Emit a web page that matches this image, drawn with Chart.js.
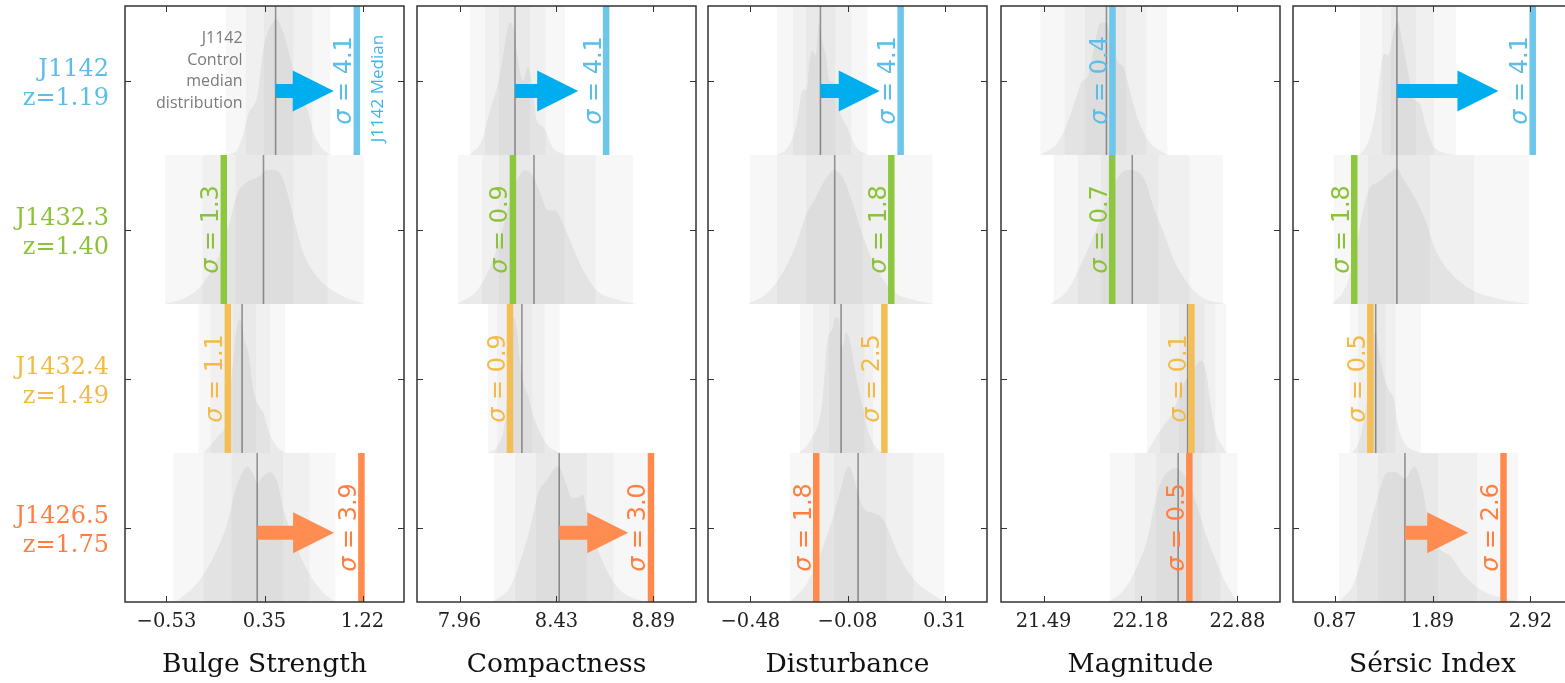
<!DOCTYPE html>
<html>
<head>
<meta charset="utf-8">
<script src="https://cdn.jsdelivr.net/npm/chart.js@4"></script>
<style>
html, body { margin: 0; padding: 0; background: #fff; overflow: hidden; width: 1565px; height: 683px; }
canvas { position: absolute; top: 0; }
</style>
</head>
<body>
<script>
// rows (top to bottom)
var clusters = ["J1142", "J1432.3", "J1432.4", "J1426.5"];
var redshifts = ["z=1.19", "z=1.40", "z=1.49", "z=1.75"];

// panels (left to right)
var measures = ["Bulge Strength", "Compactness", "Disturbance", "Magnitude", "Sérsic Index"];
var tickLabels = [
    ["−0.53", "0.35", "1.22"],
    ["7.96", "8.43", "8.89"],
    ["−0.48", "−0.08", "0.31"],
    ["21.49", "22.18", "22.88"],
    ["0.87", "1.89", "2.92"]
];
var tickValues = [
    [-0.525, 0.35, 1.225],
    [7.965, 8.43, 8.895],
    [-0.48, -0.085, 0.31],
    [21.49, 22.185, 22.88],
    [0.87, 1.895, 2.92]
];
var axisRange = [
    [-0.895, 1.595],
    [7.761, 9.099],
    [-0.652, 0.482],
    [21.185, 23.185],
    [0.4335, 3.3565]
];

// cluster median (coloured bar) and control median (grey line), [panel][row]
var clusterMedian = [
    [1.174, -0.013, 0.023, 1.215],
    [8.668, 8.221, 8.207, 8.883],
    [0.131, 0.093, 0.065, -0.212],
    [21.984, 21.982, 22.550, 22.535],
    [2.945, 1.075, 1.244, 2.639]
];
var controlMedian = [
    [0.449, 0.341, 0.150, 0.285],
    [8.231, 8.322, 8.264, 8.443],
    [-0.195, -0.137, -0.111, -0.042],
    [21.941, 22.126, 22.523, 22.455],
    [1.522, 1.522, 1.300, 1.606]
];
var sigmas = [
    ["4.1", "1.3", "1.1", "3.9"],
    ["4.1", "0.9", "0.9", "3.0"],
    ["4.1", "1.8", "2.5", "1.8"],
    ["0.4", "0.7", "0.1", "0.5"],
    ["4.1", "1.8", "0.5", "2.6"]
];
// arrow tip values (null = no arrow)
var arrowTips = [
    [0.968, null, null, 0.971],
    [8.534, null, null, 8.774],
    [0.046, null, null, null],
    [null, null, null, null],
    [2.586, null, null, 2.269]
];

// shaded percentile bands: [outerLo, outerHi, midLo, midHi, innerLo, innerHi]
var bulgeBands = [
    [0.001, 0.941, 0.180, 0.780, 0.341, 0.610],
    [-0.537, 1.237, -0.206, 0.915, 0.090, 0.610],
    [-0.241, 0.538, -0.134, 0.404, 0.063, 0.278],
    [-0.465, 0.986, -0.197, 0.753, 0.054, 0.520]
];
var compactBands = [
    [8.015, 8.471, 8.087, 8.379, 8.154, 8.303],
    [7.957, 8.797, 8.072, 8.619, 8.154, 8.470],
    [8.101, 8.446, 8.144, 8.374, 8.197, 8.312],
    [8.130, 8.863, 8.231, 8.705, 8.331, 8.576]
];
var disturbBands = [
    [-0.373, -0.003, -0.308, -0.068, -0.255, -0.133],
    [-0.483, 0.261, -0.373, 0.086, -0.255, -0.023],
    [-0.280, 0.070, -0.227, 0.021, -0.162, -0.015],
    [-0.320, 0.310, -0.227, 0.184, -0.141, 0.074]
];
var magBands = [
    [21.466, 22.379, 21.639, 22.229, 21.783, 22.085],
    [21.560, 22.776, 21.733, 22.538, 21.898, 22.315],
    [22.229, 22.803, 22.322, 22.724, 22.458, 22.645],
    [21.962, 22.882, 22.142, 22.760, 22.293, 22.624]
];
var sersicBands = [
    [1.131, 2.145, 1.363, 1.913, 1.458, 1.723],
    [0.856, 2.906, 1.099, 2.336, 1.215, 1.871],
    [1.025, 1.776, 1.110, 1.511, 1.205, 1.406],
    [0.912, 2.798, 1.100, 2.367, 1.321, 1.955]
];

// control distributions [value, relative height]
var bulgeKde = [
    [[0.001,0],[0.10,0.03],[0.162,0.15],[0.207,0.28],[0.250,0.33],[0.287,0.40],[0.341,0.72],[0.400,0.86],[0.458,0.91],[0.520,0.82],[0.583,0.64],[0.673,0.39],[0.735,0.30],[0.789,0.15],[0.870,0.04],[0.941,0]],
    [[-0.537,0],[-0.340,0.05],[-0.197,0.14],[-0.062,0.32],[0.027,0.52],[0.108,0.74],[0.198,0.82],[0.287,0.85],[0.377,0.90],[0.449,0.90],[0.520,0.83],[0.610,0.58],[0.699,0.34],[0.825,0.18],[1.004,0.07],[1.237,0]],
    [[-0.197,0],[-0.071,0.11],[0.018,0.24],[0.072,0.64],[0.108,0.87],[0.135,0.90],[0.171,0.76],[0.207,0.67],[0.251,0.42],[0.314,0.30],[0.341,0.27],[0.386,0.15],[0.466,0.04],[0.538,0]],
    [[-0.447,0],[-0.250,0.13],[-0.107,0.30],[0.018,0.53],[0.090,0.75],[0.153,0.87],[0.198,0.91],[0.242,0.87],[0.287,0.80],[0.332,0.84],[0.395,0.87],[0.466,0.80],[0.520,0.62],[0.610,0.42],[0.735,0.21],[0.879,0.06],[0.986,0]]
];
var compactKde = [
    [[8.015,0],[8.072,0.10],[8.111,0.30],[8.149,0.48],[8.173,0.66],[8.197,0.86],[8.207,0.89],[8.226,0.84],[8.245,0.64],[8.269,0.50],[8.293,0.59],[8.317,0.44],[8.336,0.23],[8.365,0.19],[8.413,0.05],[8.471,0]],
    [[7.953,0],[8.048,0.09],[8.111,0.25],[8.168,0.48],[8.207,0.70],[8.240,0.83],[8.279,0.90],[8.312,0.87],[8.351,0.75],[8.389,0.63],[8.422,0.63],[8.461,0.54],[8.509,0.38],[8.557,0.23],[8.624,0.09],[8.720,0.03],[8.815,0]],
    [[8.101,0],[8.149,0.05],[8.183,0.22],[8.202,0.56],[8.216,0.83],[8.226,0.91],[8.240,0.83],[8.255,0.62],[8.274,0.46],[8.293,0.39],[8.317,0.26],[8.351,0.14],[8.389,0.05],[8.446,0]],
    [[8.125,0],[8.207,0.10],[8.269,0.33],[8.312,0.55],[8.341,0.73],[8.384,0.82],[8.422,0.90],[8.441,0.91],[8.470,0.82],[8.504,0.70],[8.533,0.70],[8.557,0.72],[8.576,0.60],[8.624,0.37],[8.672,0.21],[8.735,0.08],[8.831,0.01],[8.864,0]]
];
var disturbKde = [
    [[-0.373,0],[-0.328,0.05],[-0.292,0.21],[-0.267,0.44],[-0.251,0.44],[-0.239,0.64],[-0.227,0.70],[-0.214,0.67],[-0.202,0.89],[-0.187,0.75],[-0.174,0.68],[-0.158,0.50],[-0.137,0.48],[-0.117,0.30],[-0.088,0.19],[-0.047,0.05],[-0.003,0]],
    [[-0.491,0],[-0.414,0.07],[-0.349,0.21],[-0.292,0.41],[-0.251,0.61],[-0.219,0.70],[-0.178,0.83],[-0.137,0.90],[-0.105,0.85],[-0.068,0.70],[-0.035,0.52],[0.004,0.34],[0.054,0.18],[0.115,0.07],[0.180,0.03],[0.269,0]],
    [[-0.280,0],[-0.235,0.09],[-0.190,0.31],[-0.166,0.76],[-0.147,0.83],[-0.136,0.91],[-0.121,0.91],[-0.106,0.71],[-0.091,0.81],[-0.076,0.76],[-0.053,0.54],[-0.023,0.31],[-0.001,0.15],[0.029,0.04],[0.059,0]],
    [[-0.320,0],[-0.249,0.13],[-0.189,0.35],[-0.144,0.57],[-0.114,0.75],[-0.091,0.89],[-0.076,0.91],[-0.061,0.84],[-0.023,0.64],[0.014,0.60],[0.052,0.57],[0.082,0.48],[0.127,0.30],[0.187,0.15],[0.263,0.05],[0.311,0]]
];
var magKde = [
    [[21.466,0],[21.588,0.08],[21.667,0.23],[21.718,0.37],[21.768,0.50],[21.804,0.52],[21.847,0.70],[21.898,0.89],[21.934,0.89],[21.984,0.75],[22.027,0.62],[22.063,0.59],[22.113,0.42],[22.171,0.23],[22.257,0.08],[22.379,0]],
    [[21.538,0],[21.660,0.09],[21.775,0.30],[21.876,0.52],[21.948,0.70],[22.020,0.85],[22.092,0.90],[22.164,0.89],[22.221,0.82],[22.279,0.65],[22.351,0.48],[22.423,0.30],[22.523,0.14],[22.638,0.04],[22.796,0]],
    [[22.230,0],[22.297,0.11],[22.363,0.20],[22.417,0.27],[22.470,0.42],[22.523,0.51],[22.576,0.58],[22.617,0.62],[22.657,0.54],[22.683,0.36],[22.723,0.15],[22.776,0.04],[22.803,0]],
    [[21.957,0],[22.065,0.08],[22.161,0.24],[22.233,0.42],[22.281,0.64],[22.329,0.80],[22.377,0.87],[22.437,0.90],[22.485,0.87],[22.532,0.80],[22.593,0.64],[22.652,0.46],[22.724,0.28],[22.796,0.13],[22.880,0]]
];
var sersicKde = [
    [[1.134,0],[1.229,0.10],[1.300,0.30],[1.353,0.59],[1.388,0.68],[1.430,0.67],[1.493,0.84],[1.536,0.89],[1.582,0.75],[1.635,0.57],[1.705,0.37],[1.758,0.35],[1.828,0.19],[1.916,0.05],[2.145,0]],
    [[0.843,0],[0.965,0.09],[1.071,0.30],[1.160,0.61],[1.229,0.77],[1.335,0.82],[1.424,0.87],[1.522,0.91],[1.599,0.83],[1.705,0.72],[1.811,0.58],[1.916,0.38],[2.058,0.23],[2.269,0.11],[2.550,0.04],[2.938,0]],
    [[1.054,0],[1.142,0.11],[1.219,0.42],[1.265,0.74],[1.300,0.81],[1.346,0.64],[1.388,0.51],[1.441,0.42],[1.493,0.36],[1.529,0.20],[1.599,0.07],[1.776,0]],
    [[0.912,0],[1.071,0.13],[1.194,0.40],[1.318,0.70],[1.424,0.87],[1.511,0.87],[1.606,0.83],[1.705,0.91],[1.794,0.75],[1.863,0.48],[1.952,0.37],[2.093,0.30],[2.216,0.19],[2.410,0.08],[2.798,0]]
];

var panelBands = [bulgeBands, compactBands, disturbBands, magBands, sersicBands];
var panelKde = [bulgeKde, compactKde, disturbKde, magKde, sersicKde];

// styling
var rowColors = ["#5bbde8", "#8cc23a", "#f2bb48", "#ff7f40"];
var lineColors = ["#6ec6ea", "#8dc63f", "#f2be55", "#ff8a4c"];
var arrowColors = ["#00aeef", null, null, "#ff8c50"];
var arrowRowPos = [0.57, 0.5, 0.5, 0.535];
var panelLeft = [125, 417, 708, 1001, 1293];
var panelWidth = 279;
var serif = "'DejaVu Serif', serif";

function buildDatasets(p) {
    var ds = [];
    for (var r = 0; r < 4; r++) {
        var b = panelBands[p][r];
        for (var k = 0; k < 3; k++) {
            ds.push({
                data: [{x: b[2 * k], y: r}, {x: b[2 * k + 1], y: r}],
                fill: {value: r + 1},
                backgroundColor: "rgba(0,0,0,0.032)",
                borderColor: "transparent", borderWidth: 0, pointRadius: 0, order: 5
            });
        }
        ds.push({
            data: panelKde[p][r].map(function (d) { return {x: d[0], y: r + 1 - d[1]}; }),
            fill: {value: r + 1},
            backgroundColor: "rgba(0,0,0,0.055)",
            borderColor: "transparent", borderWidth: 0, pointRadius: 0,
            cubicInterpolationMode: "monotone", order: 4
        });
        ds.push({
            data: [{x: controlMedian[p][r], y: r}, {x: controlMedian[p][r], y: r + 1}],
            borderColor: "rgba(0,0,0,0.38)", borderWidth: 1.6, pointRadius: 0, fill: false, order: 3
        });
        ds.push({
            data: [{x: clusterMedian[p][r], y: r}, {x: clusterMedian[p][r], y: r + 1}],
            borderColor: lineColors[r], borderWidth: 6.5, borderCapStyle: "butt",
            pointRadius: 0, fill: false, order: 2
        });
    }
    return ds;
}

var decor = {
    id: "decor",
    afterDatasetsDraw: function (chart) {
        var p = chart.options.plugins.decor.panel;
        var ctx = chart.ctx, xs = chart.scales.x, ys = chart.scales.y;
        // arrows
        for (var r = 0; r < 4; r++) {
            var tip = arrowTips[p][r];
            if (tip === null) continue;
            var x0 = xs.getPixelForValue(controlMedian[p][r]);
            var x1 = xs.getPixelForValue(tip);
            var y = ys.getPixelForValue(r + arrowRowPos[r]);
            ctx.save();
            ctx.fillStyle = arrowColors[r];
            ctx.beginPath();
            ctx.moveTo(x0, y - 7);
            ctx.lineTo(x1 - 41, y - 7);
            ctx.lineTo(x1 - 41, y - 20.5);
            ctx.lineTo(x1, y);
            ctx.lineTo(x1 - 41, y + 20.5);
            ctx.lineTo(x1 - 41, y + 7);
            ctx.lineTo(x0, y + 7);
            ctx.closePath();
            ctx.fill();
            ctx.restore();
        }
        // sigma labels
        for (var r2 = 0; r2 < 4; r2++) {
            var px = xs.getPixelForValue(clusterMedian[p][r2]);
            var py = ys.getPixelForValue(r2 + 0.5);
            ctx.save();
            ctx.translate(px - 5.5, py);
            ctx.rotate(-Math.PI / 2);
            ctx.fillStyle = rowColors[r2];
            ctx.textBaseline = "alphabetic";
            ctx.textAlign = "left";
            var f1 = "italic 24px 'DejaVu Sans'", f2 = "24px 'DejaVu Sans'";
            var rest = " = " + sigmas[p][r2];
            ctx.font = f1; var w1 = ctx.measureText("σ").width;
            ctx.font = f2; var w2 = ctx.measureText(rest).width;
            var sx = -(w1 + w2) / 2;
            ctx.font = f1; ctx.fillText("σ", sx, 0);
            ctx.font = f2; ctx.fillText(rest, sx + w1, 0);
            ctx.restore();
        }
        if (p === 0) {
            var mx = xs.getPixelForValue(controlMedian[0][0]);
            var cy = ys.getPixelForValue(0.5);
            var note = ["J1142", "Control", "median", "distribution"];
            ctx.save();
            ctx.font = "16px 'Open Sans'";
            ctx.fillStyle = "#7a7a7a";
            ctx.textAlign = "right";
            ctx.textBaseline = "middle";
            note.forEach(function (t, i) { ctx.fillText(t, mx - 33, cy - 42 + i * 21.7); });
            var bx = xs.getPixelForValue(clusterMedian[0][0]);
            ctx.translate(bx + 26, cy + 8);
            ctx.rotate(-Math.PI / 2);
            ctx.fillStyle = "#3db5ea";
            ctx.textAlign = "center";
            ctx.textBaseline = "alphabetic";
            ctx.font = "17px 'Open Sans'";
            ctx.fillText("J1142 Median", 0, 0);
            ctx.restore();
        }
    },
    afterDraw: function (chart) {
        var p = chart.options.plugins.decor.panel;
        var ctx = chart.ctx, xs = chart.scales.x, ys = chart.scales.y, a = chart.chartArea;
        ctx.save();
        ctx.strokeStyle = "#333";
        ctx.lineWidth = 1.5;
        ctx.strokeRect(a.left, a.top, a.right - a.left, a.bottom - a.top);
        ctx.lineWidth = 1;
        ctx.beginPath();
        tickValues[p].forEach(function (v) {
            var x = Math.round(xs.getPixelForValue(v)) + 0.5;
            ctx.moveTo(x, a.bottom); ctx.lineTo(x, a.bottom - 6);
            ctx.moveTo(x, a.top); ctx.lineTo(x, a.top + 6);
        });
        [0.5, 1.5, 2.5, 3.5].forEach(function (v) {
            var y = Math.round(ys.getPixelForValue(v)) + 0.5;
            ctx.moveTo(a.left, y); ctx.lineTo(a.left + 6, y);
            ctx.moveTo(a.right, y); ctx.lineTo(a.right - 6, y);
        });
        ctx.stroke();
        ctx.restore();
    }
};

for (var p = 0; p < 5; p++) {
    (function (p) {
        var canvas = document.createElement("canvas");
        var left = p === 0 ? 0 : panelLeft[p] - 8;
        var width = p === 0 ? panelLeft[0] + panelWidth + 8 : panelWidth + 16;
        canvas.width = width;
        canvas.height = 683;
        canvas.style.left = left + "px";
        canvas.style.width = width + "px";
        canvas.style.height = "683px";
        document.body.appendChild(canvas);

        var yAxis = {
            type: "linear",
            min: 0,
            max: 4,
            reverse: true,
            display: p === 0,
            grid: {display: false, drawTicks: false},
            border: {display: false},
            afterBuildTicks: function (s) { s.ticks = [0.5, 1.5, 2.5, 3.5].map(function (v) { return {value: v}; }); },
            ticks: {
                autoSkip: false, padding: 16, labelOffset: 4,
                font: {family: serif, size: 24},
                color: function (c) { return rowColors[c.index]; },
                callback: function (v, i) { return [clusters[i], redshifts[i]]; }
            }
        };
        if (p === 0) {
            yAxis.afterFit = function (s) {
                s.width = 125;
                s.paddingTop = 0;
                s.paddingBottom = 0;
            };
        }

        new Chart(canvas, {
            type: "line",
            data: {datasets: buildDatasets(p)},
            options: {
                responsive: false,
                animation: false,
                events: [],
                layout: {padding: {left: p === 0 ? 0 : 8, right: 8, top: 6, bottom: 0}},
                plugins: {legend: {display: false}, tooltip: {enabled: false}, decor: {panel: p}},
                scales: {
                    x: {
                        type: "linear",
                        min: axisRange[p][0],
                        max: axisRange[p][1],
                        grid: {display: false, drawTicks: false},
                        border: {display: false},
                        afterBuildTicks: function (s) { s.ticks = tickValues[p].map(function (v) { return {value: v}; }); },
                        afterFit: function (s) {
                            s.height = 81;
                            s.paddingLeft = 0;
                            s.paddingRight = 0;
                        },
                        ticks: {
                            autoSkip: false, maxRotation: 0, padding: 8, color: "#222",
                            font: {family: serif, size: 19.5},
                            callback: function (v, i) { return tickLabels[p][i]; }
                        },
                        title: {
                            display: true, text: measures[p], color: "#111",
                            font: {family: serif, size: 26.5},
                            padding: {top: 0, bottom: 2}
                        }
                    },
                    y: yAxis
                }
            },
            plugins: [decor]
        });
    })(p);
}
</script>
</body>
</html>
